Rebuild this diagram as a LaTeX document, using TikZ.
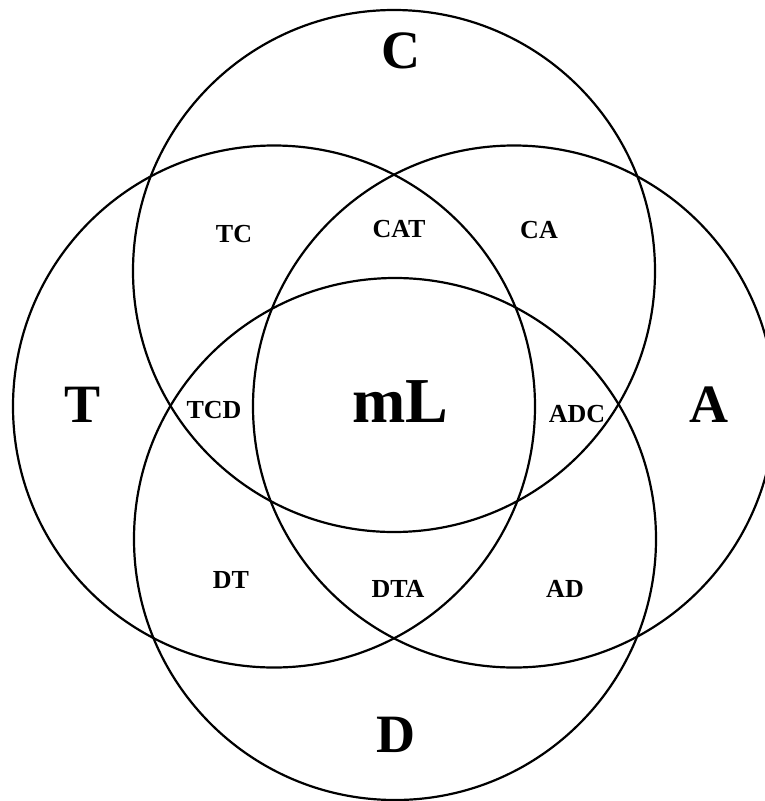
\documentclass[tikz,border=0pt]{standalone}
\usepackage{fontspec}
\setmainfont{Liberation Serif}
\begin{document}
\begin{tikzpicture}[x=1pt,y=-1pt,
  setcircle/.style={draw=black, line width=2.2pt, circle, minimum size=522pt, inner sep=0pt},
  biglabel/.style={font=\bfseries\fontsize{54}{60}\selectfont, inner sep=0pt},
  centerlabel/.style={font=\bfseries\fontsize{64}{70}\selectfont, inner sep=0pt},
  smalllabel/.style={font=\bfseries\fontsize{26}{30}\selectfont, inner sep=0pt}]
\useasboundingbox (0,0) rectangle (765,801);
\clip (0,0) rectangle (765,801);
\node[setcircle] (circC) at (394,271) {};
\node[setcircle] (circT) at (274,406.5) {};
\node[setcircle] (circA) at (514,406.5) {};
\node[setcircle] (circD) at (395,539) {};
\node[biglabel] (lC) at (401,51) {C};
\node[biglabel] (lT) at (83,405) {T};
\node[biglabel] (lA) at (709,405) {A};
\node[biglabel] (lD) at (396,735) {D};
\node[centerlabel] (lmL) at (400,402) {mL};
\node[smalllabel] (lTC) at (234,234) {TC};
\node[smalllabel] (lCAT) at (399,229) {CAT};
\node[smalllabel] (lCA) at (539,230) {CA};
\node[smalllabel] (lTCD) at (214,410.5) {TCD};
\node[smalllabel] (lADC) at (577,414) {ADC};
\node[smalllabel] (lDT) at (231,580) {DT};
\node[smalllabel] (lDTA) at (398,589) {DTA};
\node[smalllabel] (lAD) at (565,589) {AD};
\end{tikzpicture}
\end{document}
